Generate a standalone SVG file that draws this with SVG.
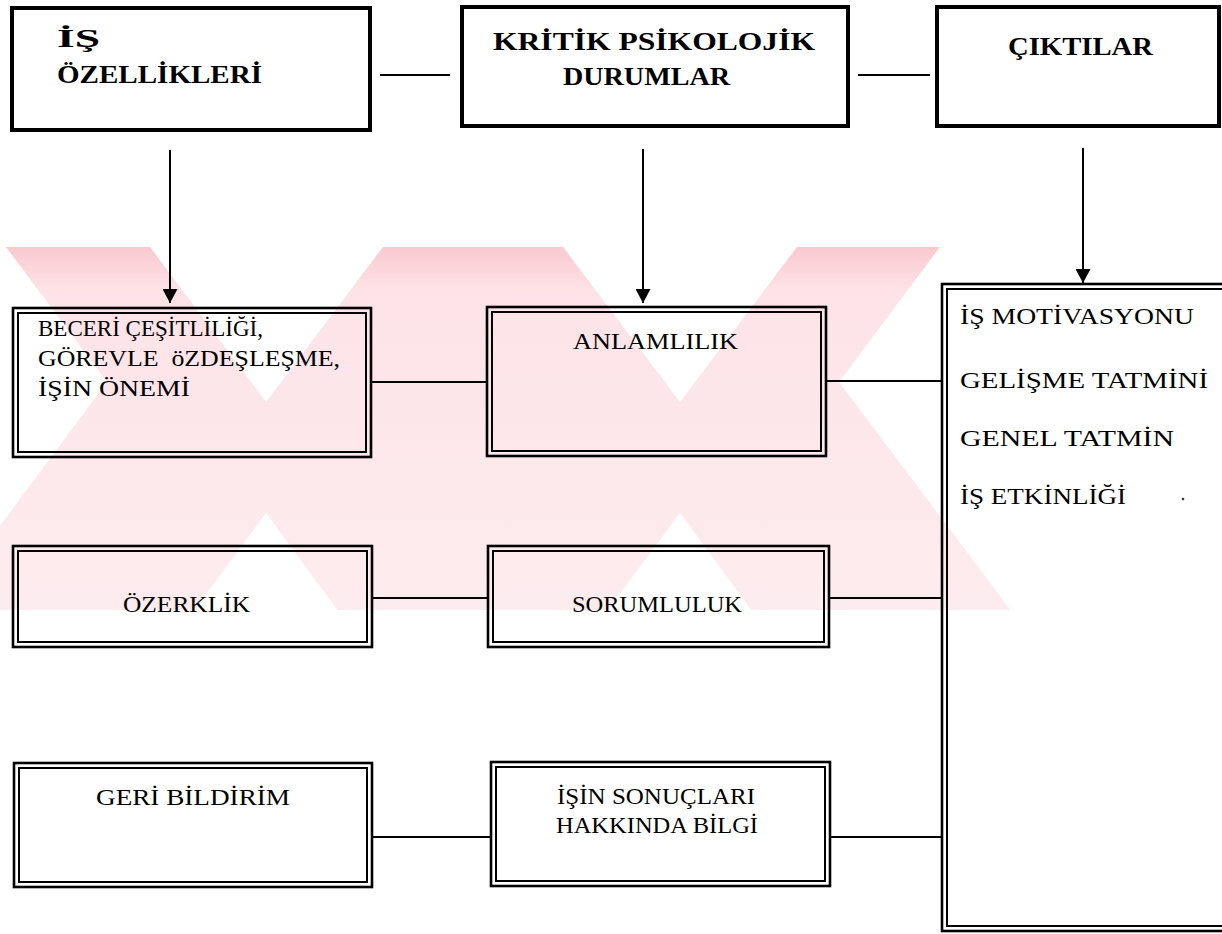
<svg xmlns="http://www.w3.org/2000/svg" width="1222" height="934" viewBox="0 0 1222 934">
  <defs>
    <style>
      .bg { fill: #ffffff; }
      .wm { fill: url(#wmFade); }
      .cut { fill: #ffffff; }
      .thick { fill: none; stroke: #000; stroke-width: 4; }
      .outer { fill: none; stroke: #000; stroke-width: 2.6; }
      .inner { fill: none; stroke: #000; stroke-width: 2; }
      .line { fill: none; stroke: #000; stroke-width: 2; }
      .hdr { font-family: "Liberation Serif", "Times New Roman", serif; font-weight: bold; font-size: 25px; fill: #000; }
      .lbl { font-family: "Liberation Serif", "Times New Roman", serif; font-size: 23px; fill: #000; }
      .out { font-family: "Liberation Serif", "Times New Roman", serif; font-size: 24px; fill: #000; }
    </style>
    <linearGradient id="wmFade" x1="0" y1="247" x2="0" y2="610" gradientUnits="userSpaceOnUse">
      <stop offset="0" stop-color="#f9c9cf"/>
      <stop offset="0.12" stop-color="#fde3e7"/>
      <stop offset="1" stop-color="#fdecef"/>
    </linearGradient>
    <clipPath id="wmClip">
      <rect x="0" y="247" width="1012" height="363"/>
    </clipPath>
    <marker id="arrow" markerUnits="userSpaceOnUse" viewBox="0 0 14 15" refX="14" refY="7.5" markerWidth="14" markerHeight="15" orient="auto">
      <path d="M0,0 L14,7.5 L0,15 z" fill="#000"/>
    </marker>
  </defs>

  <rect class="bg" x="0" y="0" width="1222" height="934"/>

  <!-- background emblem: two joined X shapes -->
  <g id="emblem" clip-path="url(#wmClip)">
    <polygon class="wm" points="0,247 940,247 839,382 1012,612 0,612"/>
    <polygon class="cut" points="-20,247 6,247 107,382 -64,612 -20,612"/>
    <polygon class="cut" points="150,247 383,247 266,402"/>
    <polygon class="cut" points="563,247 797,247 680,402"/>
    <polygon class="cut" points="193,612 266,513 339,612"/>
    <polygon class="cut" points="606,612 680,513 753,612"/>
  </g>

  <!-- connectors -->
  <g id="connectors">
    <line class="line" x1="380" y1="75" x2="450" y2="75"/>
    <line class="line" x1="858" y1="75" x2="930" y2="75"/>
    <line class="line" x1="170" y1="150" x2="170" y2="303" marker-end="url(#arrow)"/>
    <line class="line" x1="643" y1="149" x2="643" y2="303" marker-end="url(#arrow)"/>
    <line class="line" x1="1083" y1="148" x2="1083" y2="283" marker-end="url(#arrow)"/>
    <line class="line" x1="372" y1="382" x2="486" y2="382"/>
    <line class="line" x1="827" y1="381" x2="941" y2="381"/>
    <line class="line" x1="373" y1="598" x2="487" y2="598"/>
    <line class="line" x1="830" y1="598" x2="941" y2="598"/>
    <line class="line" x1="373" y1="837" x2="490" y2="837"/>
    <line class="line" x1="831" y1="837" x2="941" y2="837"/>
  </g>

  <!-- header boxes -->
  <g id="is-ozellikleri">
    <rect class="thick" x="12" y="8" width="358" height="122"/>
    <text class="hdr" x="57" y="47" textLength="43" lengthAdjust="spacingAndGlyphs">İŞ</text>
    <text class="hdr" x="57" y="83" textLength="205" lengthAdjust="spacingAndGlyphs">ÖZELLİKLERİ</text>
  </g>
  <g id="kritik-durumlar">
    <rect class="thick" x="462" y="7" width="386" height="119"/>
    <text class="hdr" x="493" y="50" textLength="322" lengthAdjust="spacingAndGlyphs">KRİTİK PSİKOLOJİK</text>
    <text class="hdr" x="563" y="85" textLength="167" lengthAdjust="spacingAndGlyphs">DURUMLAR</text>
  </g>
  <g id="ciktilar">
    <rect class="thick" x="937" y="7" width="282" height="119"/>
    <text class="hdr" x="1008" y="55" textLength="145" lengthAdjust="spacingAndGlyphs">ÇIKTILAR</text>
  </g>

  <!-- job characteristics -->
  <g id="beceri">
    <rect class="outer" x="13" y="308" width="358" height="149"/>
    <rect class="inner" x="18" y="313" width="348" height="139"/>
    <text class="lbl" x="38" y="336" textLength="225" lengthAdjust="spacingAndGlyphs">BECERİ ÇEŞİTLİLİĞİ,</text>
    <text class="lbl" x="38" y="366" textLength="302" lengthAdjust="spacingAndGlyphs" xml:space="preserve">GÖREVLE  öZDEŞLEŞME,</text>
    <text class="lbl" x="38" y="396" textLength="152" lengthAdjust="spacingAndGlyphs">İŞİN ÖNEMİ</text>
  </g>
  <g id="ozerklik">
    <rect class="outer" x="13" y="546" width="359" height="101"/>
    <rect class="inner" x="18" y="551" width="349" height="91"/>
    <text class="lbl" x="123" y="612" textLength="127" lengthAdjust="spacingAndGlyphs">ÖZERKLİK</text>
  </g>
  <g id="geri-bildirim">
    <rect class="outer" x="14" y="763" width="358" height="124"/>
    <rect class="inner" x="19" y="768" width="348" height="114"/>
    <text class="lbl" x="96" y="805" textLength="194" lengthAdjust="spacingAndGlyphs">GERİ BİLDİRİM</text>
  </g>

  <!-- psychological states -->
  <g id="anlamlilik">
    <rect class="outer" x="487" y="307" width="339" height="149"/>
    <rect class="inner" x="492" y="312" width="329" height="139"/>
    <text class="lbl" x="573" y="349" textLength="165" lengthAdjust="spacingAndGlyphs">ANLAMLILIK</text>
  </g>
  <g id="sorumluluk">
    <rect class="outer" x="488" y="546" width="341" height="101"/>
    <rect class="inner" x="493" y="551" width="331" height="91"/>
    <text class="lbl" x="572" y="612" textLength="170" lengthAdjust="spacingAndGlyphs">SORUMLULUK</text>
  </g>
  <g id="sonuclar-bilgi">
    <rect class="outer" x="491" y="762" width="339" height="124"/>
    <rect class="inner" x="496" y="767" width="329" height="114"/>
    <text class="lbl" x="557" y="804" textLength="198" lengthAdjust="spacingAndGlyphs">İŞİN SONUÇLARI</text>
    <text class="lbl" x="556" y="833" textLength="202" lengthAdjust="spacingAndGlyphs">HAKKINDA BİLGİ</text>
  </g>

  <!-- outcomes -->
  <g id="ciktilar-liste">
    <rect class="outer" x="942" y="284" width="290" height="647"/>
    <rect class="inner" x="947" y="289" width="280" height="637"/>
    <text class="out" x="960" y="324" textLength="234" lengthAdjust="spacingAndGlyphs">İŞ MOTİVASYONU</text>
    <text class="out" x="960" y="388" textLength="248" lengthAdjust="spacingAndGlyphs">GELİŞME TATMİNİ</text>
    <text class="out" x="960" y="446" textLength="214" lengthAdjust="spacingAndGlyphs">GENEL TATMİN</text>
    <text class="out" x="960" y="504" textLength="166" lengthAdjust="spacingAndGlyphs">İŞ ETKİNLİĞİ</text>
    <circle cx="1183" cy="499" r="1.3" fill="#333"/>
  </g>
</svg>
